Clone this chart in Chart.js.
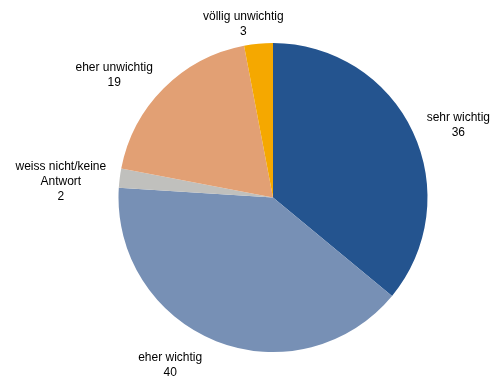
<!DOCTYPE html>
<html>
<head>
<meta charset="utf-8">
<script src="https://cdn.jsdelivr.net/npm/chart.js@4"></script>
<style>
  html, body { margin: 0; padding: 0; background: #fff; }
  #wrap { width: 491px; height: 376px; }
</style>
</head>
<body>
<div id="wrap"><canvas id="myChart"></canvas></div>
<script>
const labels = ["sehr wichtig", "eher wichtig", "weiss nicht/keine Antwort", "eher unwichtig", "völlig unwichtig"];
const values = [36, 40, 2, 19, 3];
const sliceColors = ["#24548f", "#7790b5", "#c0c0bd", "#e2a074", "#f5a800"];
// how each label is broken into lines
const labelLines = [
  ["sehr wichtig"],
  ["eher wichtig"],
  ["weiss nicht/keine", "Antwort"],
  ["eher unwichtig"],
  ["völlig unwichtig"]
];

// draws "name / value" outside each slice
const outsideLabels = {
  id: 'outsideLabels',
  afterDatasetsDraw(chart) {
    const ctx = chart.ctx;
    const meta = chart.getDatasetMeta(0);
    // best-fit nudges: angle (radians) and gap from the rim (px)
    const shift = [0.04, 0.136, -0.044, -0.071, -0.054];
    const gap = [15, 23, 13, 17, 6];
    ctx.save();
    ctx.font = '12px "Liberation Sans", Arial, sans-serif';
    ctx.fillStyle = '#000';
    ctx.textAlign = 'center';
    ctx.textBaseline = 'middle';
    meta.data.forEach(function(arc, i) {
      const a = (arc.startAngle + arc.endAngle) / 2 + shift[i];
      const lines = labelLines[i].concat([String(values[i])]);
      const lh = 15;
      let w = 0;
      lines.forEach(function(l) { w = Math.max(w, ctx.measureText(l).width); });
      const h = lines.length * lh;
      const rr = arc.outerRadius + gap[i];
      const ax = arc.x + Math.cos(a) * rr;
      const ay = arc.y + Math.sin(a) * rr;
      const cx = ax + Math.cos(a) * w / 2;
      const cy = ay + Math.sin(a) * h / 2;
      lines.forEach(function(l, k) {
        ctx.fillText(l, cx, cy - h / 2 + lh / 2 + k * lh);
      });
    });
    ctx.restore();
  }
};

new Chart("myChart", {
  type: "pie",
  data: {
    labels: labels,
    datasets: [{
      data: values,
      backgroundColor: sliceColors,
      borderWidth: 0
    }]
  },
  options: {
    responsive: true,
    maintainAspectRatio: false,
    animation: false,
    layout: { padding: { left: 118, right: 63, top: 43, bottom: 24 } },
    plugins: {
      legend: { display: false },
      tooltip: { enabled: false }
    }
  },
  plugins: [outsideLabels]
});
</script>
</body>
</html>
